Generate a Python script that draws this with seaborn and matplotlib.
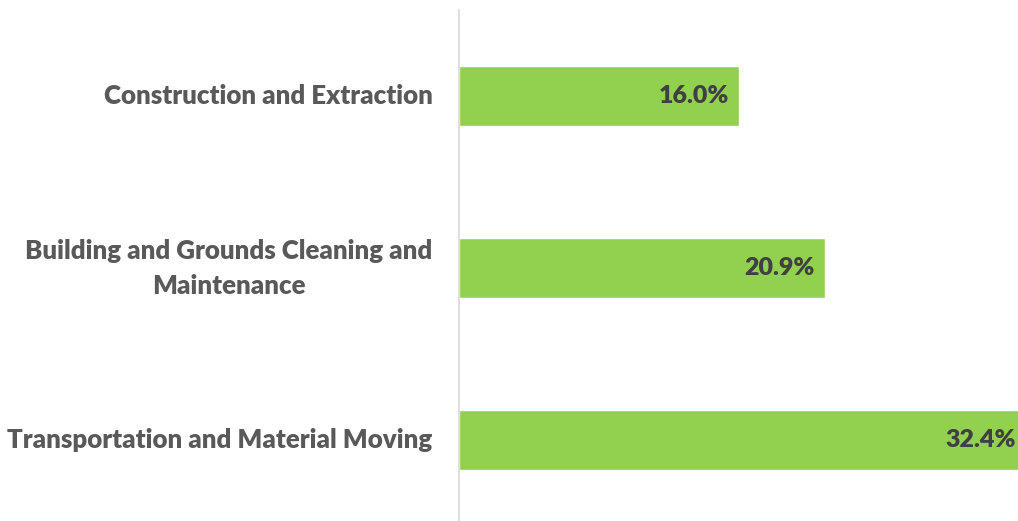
import matplotlib
matplotlib.use('Agg')
import matplotlib.pyplot as plt
import pandas as pd
import seaborn as sns

categories = ['Construction and Extraction',
              'Building and Grounds Cleaning and\nMaintenance',
              'Transportation and Material Moving']
values = [16.0, 20.9, 32.4]

df = pd.DataFrame({'category': categories, 'value': values})

sns.set_style('white')
plt.rcParams['font.family'] = ['Lato', 'DejaVu Sans']

fig = plt.figure(figsize=(10.18, 5.21), dpi=100)
ax = fig.add_axes([459 / 1018, -5 / 521, 1 - 459 / 1018, 516 / 521])

sns.barplot(data=df, x='value', y='category', orient='h', color='#92D050',
            saturation=1, width=0.35, ax=ax, order=categories)

ax.set_xlim(0, 31.94)
ax.set_ylim(2.5, -0.5)
ax.set(xlabel='', ylabel='')
ax.set_xticks([])
for s in ['top', 'right', 'bottom']:
    ax.spines[s].set_visible(False)
ax.spines['left'].set_color('#D9D9D9')
ax.spines['left'].set_linewidth(1.2)
ax.tick_params(axis='y', length=0, pad=19)
for lbl in ax.get_yticklabels():
    lbl.set_fontsize(18.6)
    lbl.set_fontweight('heavy')
    lbl.set_color('#595959')
    lbl.set_multialignment('center')
    lbl.set_linespacing(1.55)
    lbl.set_verticalalignment('center')

for i, v in enumerate(values):
    ax.annotate('%.1f%%' % v, xy=(v, i), xytext=(-7, 0), textcoords='offset points',
                ha='right', va='center', fontsize=18, fontweight='heavy',
                color='#404040', annotation_clip=False)

fig.savefig('out.png', dpi=100)
